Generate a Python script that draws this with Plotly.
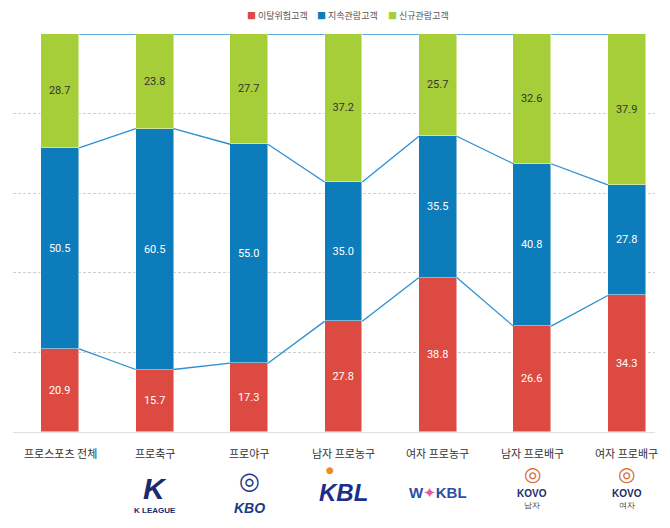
import plotly.graph_objects as go

categories = ["프로스포츠 전체", "프로축구", "프로야구", "남자 프로농구", "여자 프로농구", "남자 프로배구", "여자 프로배구"]
risk = [20.9, 15.7, 17.3, 27.8, 38.8, 26.6, 34.3]       # 이탈위험고객
keep = [50.5, 60.5, 55.0, 35.0, 35.5, 40.8, 27.8]       # 지속관람고객
new = [28.7, 23.8, 27.7, 37.2, 25.7, 32.6, 37.9]        # 신규관람고객
series_names = ["이탈위험고객", "지속관람고객", "신규관람고객"]

RED, BLUE, GREEN = "#dc4a41", "#0c7cba", "#a6ce39"
LINE = "#2a8fd0"
FONT = "Liberation Sans Narrow, Roboto, Liberation Sans, sans-serif"
KFONT = "Noto Sans CJK KR, Noto Sans, sans-serif"

# page offset (body margin) compensation
OFF = 8
W, H = 670, 528
L, T = 13 - OFF, 34 - OFF
R = W - (655 - OFF)
B = H - (432 - OFF)
PW, PH = W - L - R, H - T - B


def py(page_y):
    return 1 - (page_y - OFF - T) / PH


def pxp(page_x):
    return (page_x - OFF - L) / PW


x = list(range(len(categories)))
bw = 0.4

fig = go.Figure()
for vals, col, tcol, name in [(risk, RED, "white", series_names[0]),
                              (keep, BLUE, "white", series_names[1]),
                              (new, GREEN, "#333333", series_names[2])]:
    fig.add_trace(go.Bar(
        x=x, y=vals, name=name, width=bw,
        marker=dict(color=col, line=dict(color="rgba(255,255,255,0.6)", width=0.8)),
        text=[f"{v:.1f}" for v in vals], textposition="inside",
        insidetextanchor="middle", textangle=0,
        textfont=dict(color=tcol, size=11, family=FONT),
    ))

# connecting lines between bars
b1 = risk
b2 = [r + k for r, k in zip(risk, keep)]
b3 = [100] * len(categories)
for b in (b1, b2, b3):
    lx, ly = [], []
    for i in range(len(categories) - 1):
        lx += [x[i] + bw / 2, x[i + 1] - bw / 2, None]
        ly += [b[i], b[i + 1], None]
    fig.add_trace(go.Scatter(x=lx, y=ly, mode="lines", cliponaxis=False,
                             line=dict(color=LINE, width=1.3), hoverinfo="skip"))

ann = []
for i, c in enumerate(categories):
    ann.append(dict(x=x[i], y=py(453), xref="x", yref="paper", yanchor="middle",
                    text=c, showarrow=False, font=dict(size=11, color="#333", family=KFONT)))

# logo stand-ins
NAVY = "#1b2a6b"
logos = [
    (1, 488, "<b><i>K</i></b>", 30, NAVY),
    (1, 510, "<b>K LEAGUE</b>", 8, NAVY),
    (2, 480, "<b>◎</b>", 24, "#1a3a8a"),
    (2, 508, "<b><i>KBO</i></b>", 14, "#1a3a8a"),
    (3, 492, "<b><i>KBL</i></b>", 24, "#1a2f8a"),
    (4, 492, "<b><span style='color:#2a50a8'>W</span><span style='color:#e35aa0'>✦</span><span style='color:#2a50a8'>KBL</span></b>", 15, "#2a50a8"),
    (5, 474, "<b>◎</b>", 20, "#d9662f"),
    (5, 493, "<b>KOVO</b>", 10, NAVY),
    (5, 505, "남자", 8, "#444"),
    (6, 474, "<b>◎</b>", 20, "#d9662f"),
    (6, 493, "<b>KOVO</b>", 10, NAVY),
    (6, 505, "여자", 8, "#444"),
]
for xi, yy, t, s, col in logos:
    ann.append(dict(x=xi, y=py(yy), xref="x", yref="paper", yanchor="middle", text=t,
                    showarrow=False, font=dict(size=s, color=col, family="Liberation Sans, DejaVu Sans, sans-serif")))
# orange ball of the KBL logo
ann.append(dict(x=2.86, y=py(470), xref="x", yref="paper", yanchor="middle", text="●",
                showarrow=False, font=dict(size=9, color="#f08a24", family="DejaVu Sans")))

# legend as annotations
leg = [(245, RED, series_names[0]), (315, BLUE, series_names[1]), (386, GREEN, series_names[2])]
for px, col, name in leg:
    ann.append(dict(x=pxp(px), y=py(16), xref="paper", yref="paper",
                    xanchor="left", yanchor="middle", showarrow=False,
                    text=f"<span style='color:{col}'>■</span> {name}",
                    font=dict(size=9, color="#555", family=KFONT)))

fig.update_layout(
    width=W, height=H, barmode="stack", bargap=0,
    margin=dict(l=L, r=R, t=T, b=B),
    plot_bgcolor="white", paper_bgcolor="white",
    showlegend=False, annotations=ann,
)
fig.update_xaxes(range=[-0.5, 6.3], showticklabels=False, showgrid=False,
                 zeroline=False, showline=False, fixedrange=True)
fig.update_yaxes(range=[0, 100], tickvals=[20, 40, 60, 80, 100], showticklabels=False,
                 showgrid=True, gridcolor="#cfcfcf", griddash="3px,2px", gridwidth=1,
                 zeroline=True, zerolinecolor="#e0e0e0", zerolinewidth=1, showline=False)

fig.write_html("out.html")
